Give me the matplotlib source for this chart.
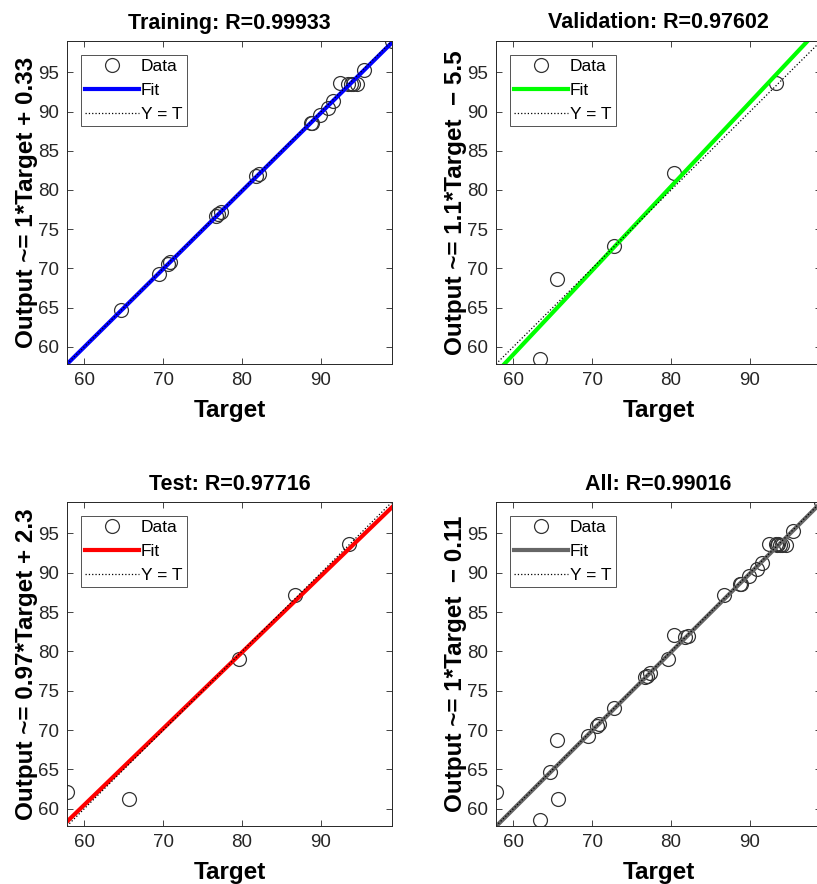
import numpy as np
import matplotlib
matplotlib.use("Agg")
import matplotlib.pyplot as plt

plt.rcParams['font.family'] = ['Liberation Sans', 'DejaVu Sans']

# values
train_t = [64.7, 69.5, 70.6, 70.9, 76.7, 77.0, 77.3, 81.8, 82.1, 88.7, 88.9, 89.9, 90.9, 91.5, 92.4, 93.4, 93.8, 94.1, 94.6, 95.4, 99.0]
train_y = [64.7, 69.3, 70.5, 70.8, 76.7, 76.9, 77.2, 81.8, 82.0, 88.6, 88.6, 89.6, 90.5, 91.3, 93.6, 93.5, 93.5, 93.5, 93.5, 95.3, 99.0]
val_t = [63.4, 65.5, 72.7, 80.4, 93.3]
val_y = [58.5, 68.7, 72.8, 82.1, 93.7]
test_t = [57.8, 65.6, 79.6, 86.7, 93.5]
test_y = [62.1, 61.2, 79.0, 87.2, 93.7]
all_t = train_t + val_t + test_t
all_y = train_y + val_y + test_y

titles = ["Training: R=0.99933", "Validation: R=0.97602", "Test: R=0.97716", "All: R=0.99016"]
ylabels = ["Output ~= 1*Target + 0.33", "Output ~= 1.1*Target  \u2212 5.5",
           "Output ~= 0.97*Target + 2.3", "Output ~= 1*Target  \u2212 0.11"]
fit_colors = [(0, 0, 1), (0, 1, 0), (1, 0, 0), (0.4, 0.4, 0.4)]
xticks = [60, 70, 80, 90]
yticks = [60, 65, 70, 75, 80, 85, 90, 95]

sets = [(train_t, train_y), (val_t, val_y), (test_t, test_y), (all_t, all_y)]
lo = min(all_t + all_y)
hi = max(all_t + all_y)

W, H = 817, 884
fig = plt.figure(figsize=(W / 100, H / 100), dpi=100)

# axes boxes in pixels: left, top, right, bottom
boxes = [(67, 41, 392, 364), (496, 41, 821, 364),
         (67, 502, 392, 826), (496, 502, 821, 826)]

axc = (0.15, 0.15, 0.15)
for i in range(4):
    l, t, r, b = boxes[i]
    ax = fig.add_axes([l / W, (H - b) / H, (r - l) / W, (b - t) / H])
    tt = np.array(sets[i][0])
    yy = np.array(sets[i][1])
    a, c = np.polyfit(tt, yy, 1)
    xs = np.array([lo, hi])
    ax.plot(tt, yy, 'o', mfc='none', mec=(0.2, 0.2, 0.2), ms=10, mew=0.9, label='Data')
    ax.plot(xs, a * xs + c, '-', color=fit_colors[i], lw=3, label='Fit')
    ax.plot(xs, xs, ':', color='k', lw=0.9, label='Y = T')
    ax.set_xlim(lo, hi)
    ax.set_ylim(lo, hi)
    ax.set_xticks(xticks)
    ax.set_yticks(yticks)
    ax.tick_params(direction='in', top=True, right=True, length=4, width=0.6,
                   labelsize=13.5, colors=axc, labelcolor=axc, pad=6)
    for s in ax.spines.values():
        s.set_color(axc)
        s.set_linewidth(0.7)
    ax.set_title(titles[i], fontsize=15.5, fontweight='bold', pad=9)
    ax.set_xlabel('Target', fontsize=17.5, fontweight='bold', labelpad=7)
    ax.set_ylabel(ylabels[i], fontsize=17.5, fontweight='bold', labelpad=0)
    leg = ax.legend(loc='upper left', fontsize=12.5, frameon=True, fancybox=False,
                    handlelength=3.1, handletextpad=0.1, borderpad=0.25,
                    labelspacing=0.5, borderaxespad=0.8)
    leg.get_frame().set_edgecolor(axc)
    leg.get_frame().set_linewidth(0.7)

fig.savefig('out.png', dpi=100)
